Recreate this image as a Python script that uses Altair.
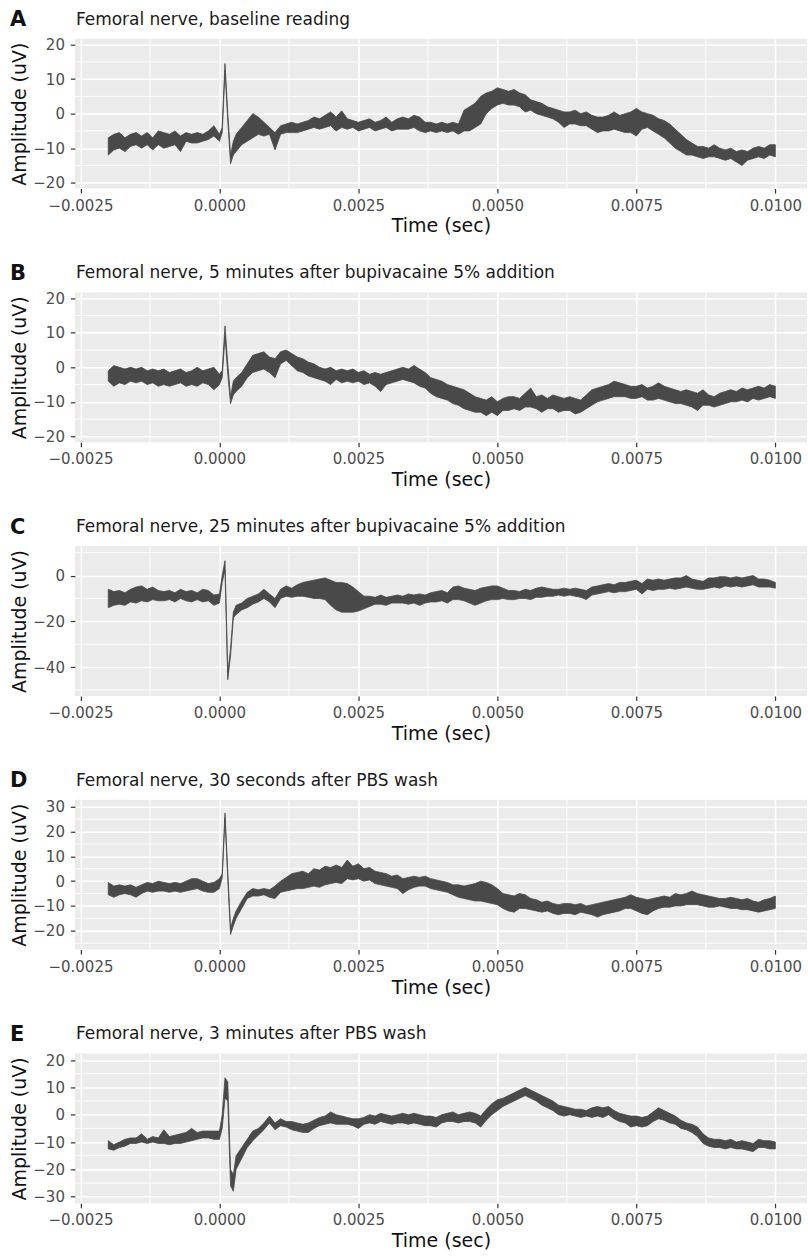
import altair as alt
import pandas as pd

# sample times (s)
TIME = [
    -0.0020, -0.0019, -0.0018, -0.0017, -0.0016, -0.0015, -0.0014, -0.0013, -0.0012, -0.0011,
    -0.0010, -0.0009, -0.0008, -0.0007, -0.0006, -0.0005, -0.0004, -0.0003, -0.0002, -0.0001,
    0.0000, 0.00005, 0.0001, 0.00015, 0.0002, 0.00025,
    0.0003, 0.0004, 0.0005, 0.0006, 0.0007, 0.0008, 0.0009, 0.0010, 0.0011, 0.0012,
    0.0013, 0.0014, 0.0015, 0.0016, 0.0017, 0.0018, 0.0019, 0.0020, 0.0021, 0.0022,
    0.0023, 0.0024, 0.0025, 0.0026, 0.0027, 0.0028, 0.0029, 0.0030, 0.0031, 0.0032,
    0.0033, 0.0034, 0.0035, 0.0036, 0.0037, 0.0038, 0.0039, 0.0040, 0.0041, 0.0042,
    0.0043, 0.0044, 0.0045, 0.0046, 0.0047, 0.0048, 0.0049, 0.0050, 0.0051, 0.0052,
    0.0053, 0.0054, 0.0055, 0.0056, 0.0057, 0.0058, 0.0059, 0.0060, 0.0061, 0.0062,
    0.0063, 0.0064, 0.0065, 0.0066, 0.0067, 0.0068, 0.0069, 0.0070, 0.0071, 0.0072,
    0.0073, 0.0074, 0.0075, 0.0076, 0.0077, 0.0078, 0.0079, 0.0080, 0.0081, 0.0082,
    0.0083, 0.0084, 0.0085, 0.0086, 0.0087, 0.0088, 0.0089, 0.0090, 0.0091, 0.0092,
    0.0093, 0.0094, 0.0095, 0.0096, 0.0097, 0.0098, 0.0099, 0.0100,
]

# Panel A: baseline
A_HI = [
    -7, -6, -5.5, -7, -6, -5.5, -6.5, -5.5, -7, -5,
    -5.5, -6, -5, -6.5, -5.5, -6, -5.5, -6, -5, -3.5,
    -6, -4, 14.5, 0, -12, -8,
    -6, -4, -2, 0, -1, -2.5, -4, -5.5, -3.5, -3,
    -2.5, -3, -2.5, -2, -1, -1.5, -0.5, 0.5, -1, 0.8,
    -1.5, -2, -2.5, -2, -1.5, -2.5, -2, -1, -2.5, -1.5,
    -1, -1.5, -0.5, -1, -2.5, -2.5, -3, -2.5, -3, -2.5,
    -3, 1, 2, 3, 5, 6, 6.5, 7.5, 7, 6.5,
    7, 6, 5.5, 4, 3.5, 3, 2, 1.5, 1, 0.5,
    0.5, 1, 0, 0.5, -0.5, -1, -1, -0.5, 0.5, -0.5,
    0, 0.5, 1.5, 0.5, 0, -0.5, -1.5, -2, -3, -4.5,
    -6, -7.5, -8.5, -9.5, -9.5, -10, -9, -10, -10.5, -10,
    -11, -10.5, -11, -10, -9.5, -10, -9, -9,
]
A_LO = [
    -12, -10.5, -10, -11, -9.5, -9, -10, -9, -10.5, -9,
    -10, -9.5, -9, -11, -8, -8.5, -8.5, -8, -7.5, -6.5,
    -8, -5.5, 12.5, -2, -14.5, -12,
    -11, -9, -8, -7, -6, -6.5, -6, -10.5, -6, -5.5,
    -5.5, -5.5, -5, -4.5, -4, -4.5, -4, -3.5, -5, -4,
    -4.5, -4, -5, -4.5, -4, -5, -4.5, -4, -5, -4.5,
    -4.5, -4.5, -4, -5, -5.5, -5, -5.5, -5, -5.5, -5,
    -6, -5, -5, -4, -3, 0, 1.5, 2.5, 3, 2.5,
    2.5, 2, 0.5, 1, 0, -0.5, -1, -1.5, -2.5, -4,
    -3, -3, -3.5, -3.5, -4.5, -5.5, -5, -5, -4.5, -5,
    -5.5, -5.5, -6.5, -4.5, -4, -5, -6, -7, -8.5, -10,
    -11, -12, -12, -12.5, -13, -12.5, -12.5, -13, -13.5, -13,
    -14, -15, -13.5, -13, -12.5, -13, -12, -12.5,
]

# Panel B: 5 min after bupivacaine
B_HI = [
    -1, 0.5, 0, -0.5, 0, -0.5, 0, -1, -0.5, -1,
    -0.5, -1.5, -1, -0.5, -1.5, -1, 0, -1, -0.5, 0,
    -2, -1, 12, 1, -8.5, -4,
    -3, -1.5, 1, 3.5, 4, 4.5, 3, 2.5, 4.5, 5,
    4, 3, 2.5, 1.5, 1, 0, -0.5, 0, -1, -0.5,
    -1, -0.5, -1.5, -1, -2, -1.5, -2, -1.5, -1, -0.5,
    0, -0.5, 0.5, -0.5, -1.5, -3, -3.5, -4, -5, -5.5,
    -6, -6.5, -7.5, -8.5, -9, -9.5, -8.5, -10, -9, -8.5,
    -8.5, -9, -7.5, -6, -8.5, -8, -9, -8, -8.5, -9,
    -8.5, -9, -9.5, -8, -6.5, -6, -5.5, -5, -4, -4.5,
    -5, -5.5, -5.5, -5, -6, -5.5, -4.5, -5.5, -6, -6.5,
    -7, -6.5, -7, -7.5, -6.5, -8, -8.5, -7.5, -7, -6.5,
    -7, -6, -6.5, -6, -5.5, -6, -5, -5.5,
]
B_LO = [
    -4, -5.5, -4.5, -5, -4, -4.5, -4, -5, -4.5, -5.5,
    -5, -5.5, -5, -4.5, -5.5, -5, -5.5, -4.5, -5, -6.5,
    -5, -3, 9, -2, -10.5, -8,
    -7, -5.5, -3, -1.5, -1, -0.5, -1.5, -3, 1, 2,
    0.5, -1, -1.5, -2.5, -3, -3.5, -4, -5, -3.5, -4.5,
    -4, -4.5, -4, -5, -4.5, -5.5, -7, -5, -4.5, -4,
    -3.5, -4, -4.5, -5.5, -6, -7.5, -8.5, -9, -9.5, -10.5,
    -11, -12, -12.5, -13, -13, -14, -13, -14, -12.5, -12.5,
    -12, -12.5, -11.5, -11.5, -12, -13, -12, -12, -13, -12.5,
    -12.5, -13.5, -13, -12, -11, -10, -9.5, -9, -8.5, -8.5,
    -8.5, -9, -9, -8.5, -9.5, -9.5, -9, -9.5, -10, -10.5,
    -10.5, -11, -11.5, -12.5, -11, -11, -11.5, -11, -10.5, -10,
    -10, -9.5, -10, -9, -9.5, -9, -8.5, -9,
]

# Panel C: 25 min after bupivacaine
C_HI = [
    -6, -7, -6.5, -7.5, -6, -5, -4.5, -6, -5, -6.5,
    -7, -6.5, -7.5, -6, -7, -6.5, -7.5, -6, -6.5, -8.5,
    -8, 0, 6.5, -42.5, -32, -16,
    -13, -12, -10, -9, -8, -6, -8, -10, -6, -4.5,
    -5.5, -4, -3, -2.5, -2, -1.5, -1, -2, -3, -3,
    -3.5, -5, -7, -9, -9, -9.5, -8.5, -9.5, -9, -8.5,
    -9, -8, -8.5, -8, -8.5, -7.5, -7, -6.5, -7.5, -5,
    -4.5, -5.5, -6, -6.5, -5.5, -5, -4.5, -4.5, -5.5, -6.5,
    -6.5, -7, -6, -6.5, -5.5, -5, -5.5, -6, -6, -5.5,
    -6, -5.5, -6, -6.5, -5, -4.5, -4, -3.5, -4, -3,
    -3, -2.5, -2, -3.5, -1.5, -2, -1.5, -2, -1.5, -1,
    -1, 0, -1.5, -2, -2.5, -1, -1, -0.5, -0.5, -1,
    -0.5, -1, -0.5, 0, -1.5, -1.5, -2, -3,
]
C_LO = [
    -14, -13, -12.5, -13, -11.5, -12, -11, -11.5, -10.5, -11,
    -11, -10.5, -11.5, -10, -11, -11.5, -10.5, -11.5, -11, -13,
    -12, -3, 2.5, -45.5, -35, -18.5,
    -17, -15, -14, -12.5, -11.5, -10, -11.5, -14, -10, -9,
    -9.5, -9, -9, -9.5, -10, -10, -10.5, -13, -15, -16,
    -16, -16, -15.5, -14.5, -13.5, -12.5, -12.5, -13, -12, -12,
    -12, -12.5, -12, -13, -12, -11.5, -11.5, -11, -12, -10.5,
    -10.5, -11, -12, -13, -12, -11, -10.5, -10.5, -10, -10.5,
    -10.5, -10, -10, -10.5, -9.5, -9.5, -9, -9, -8.5, -9,
    -8.5, -9, -9.5, -10.5, -8.5, -8, -7.5, -7, -7.5, -7,
    -7, -6.5, -6, -8, -6, -6.5, -6, -6, -5.5, -6,
    -5.5, -5, -5.5, -6, -6, -5.5, -5, -5.5, -4.5, -5,
    -4.5, -5, -4.5, -4, -5, -5, -5, -5.5,
]

# Panel D: 30 s after PBS wash
D_HI = [
    -0.5, -2, -1.5, -2, -1.5, -2.5, -1.5, -0.5, -1, 0,
    -0.5, -1, -0.5, -1, 0, 1, 1, 0, -1, -0.5,
    1, 3, 27.5, 3.5, -19, -15,
    -12, -8, -4.5, -3, -3.5, -3, -3.5, -2, 0, 1.5,
    3, 3.5, 4, 3, 5, 4.5, 6, 5.5, 6.5, 5.5,
    8.5, 6, 7, 5, 5.5, 4, 3.5, 3, 2, 2.5,
    1, 1.5, 2, 1.5, 2, 1, 0.5, 0, -0.5, -1.5,
    -1.5, -2, -1.5, -1, 0, -0.5, -1.5, -3, -5, -5.5,
    -6, -5, -5.5, -7, -7.5, -8.5, -8, -9, -9.5, -9,
    -9, -9.5, -9, -10, -9.5, -9, -8.5, -8, -7.5, -7,
    -6.5, -5.5, -6.5, -7, -7.5, -7, -6.5, -6, -6.5, -5,
    -5.5, -5, -4, -5, -5.5, -6, -6.5, -7, -7, -6.5,
    -7, -7.5, -7, -8, -8.5, -7.5, -7, -6,
]
D_LO = [
    -5.5, -6.5, -5.5, -5, -5.5, -6.5, -5, -4, -4.5, -4,
    -4, -4.5, -4, -4.5, -4, -3.5, -3, -4, -4.5, -4.5,
    -3, 1.5, 25.5, 1, -21.5, -18,
    -15, -11, -7, -6, -6, -5.5, -6.5, -7, -4.5, -4,
    -3.5, -3, -3, -2.5, -2, -2.5, -1.5, -1, -0.5, -1,
    1, 0.5, 1, 0, 0.5, -1, -1.5, -2, -2.5, -3,
    -5, -3.5, -2.5, -2, -2, -3, -3.5, -4, -4.5, -5.5,
    -6.5, -7, -7.5, -8, -8, -8.5, -9, -9.5, -11, -12,
    -12.5, -11, -11, -11.5, -12, -12.5, -12, -13, -13.5, -13,
    -13, -13.5, -12.5, -13, -13.5, -14.5, -13.5, -13, -12.5, -12,
    -11, -11, -12, -13, -13.5, -12, -11, -10.5, -10.5, -10,
    -10, -9.5, -9.5, -9.5, -10, -10.5, -10.5, -10, -10.5, -11,
    -11, -11.5, -11.5, -12, -12.5, -12, -11.5, -11,
]

# Panel E: 3 min after PBS wash
E_HI = [
    -9.5, -11, -10, -9, -8.5, -8.5, -7, -9, -8, -8.5,
    -5.5, -8, -7.5, -7, -6.5, -5, -6.5, -6, -6, -6,
    -6, 0, 13.5, 12, -20, -22,
    -15, -12, -9, -6, -5, -3, -0.5, -3, -1.5, -2.5,
    -2.5, -3, -3.5, -3, -2, -1, -0.5, 1, 0, -0.5,
    -1, -1.5, -1.5, -1, 0, -0.5, 0.5, 0, -0.5, 0,
    0.5, 0, 0.5, 0, -0.5, -0.5, -1, 0, 0.5, 1,
    0, 0.5, 1, 0.5, -0.5, 2, 4, 5.5, 6, 7,
    8, 9, 10, 9, 8, 7, 6, 5, 3.5, 3,
    2.5, 2, 2, 1.5, 2.5, 3, 2.5, 3, 1.5, 0.5,
    0, -0.5, -0.5, -1, -0.5, 1, 2.5, 1.5, 0.5, -0.5,
    -2, -3, -3.5, -4.5, -7, -8.5, -9, -9, -9.5, -9,
    -10, -9.5, -10, -10.5, -9, -9.5, -9.5, -10,
]
E_LO = [
    -12.5, -13, -12, -11.5, -10.5, -10.5, -10, -10.5, -10, -10.5,
    -10.5, -11, -10.5, -10.5, -10, -9.5, -9, -8.5, -8.5, -9,
    -9, -5, 6, 5, -26, -28,
    -20, -16, -12, -9.5, -7.5, -5.5, -3, -5.5, -4, -4.5,
    -5.5, -6, -6.5, -6.5, -5, -4, -3.5, -3, -3.5, -3.5,
    -3.5, -4, -5, -3.5, -3, -3.5, -2.5, -3, -3.5, -3,
    -3, -3.5, -3, -3.5, -4, -4, -4.5, -3, -2.5, -2.5,
    -3, -2.5, -2.5, -3, -4.5, -2, 0, 1.5, 3, 4,
    5, 6, 7, 6, 5, 3.5, 2.5, 1.5, 0, -0.5,
    0, -0.5, -1, -0.5, -1, -0.5, -1, 0, -1.5, -2.5,
    -3, -4.5, -4, -4.5, -4, -2.5, -1.5, -2, -3, -3.5,
    -5, -5.5, -6.5, -8, -10.5, -11.5, -12, -12, -12.5, -12,
    -12.5, -12.5, -13, -13.5, -12, -12, -12.5, -12.5,
]

LETTERS = ["A", "B", "C", "D", "E"]
TITLES = [
    "Femoral nerve, baseline reading",
    "Femoral nerve, 5 minutes after bupivacaine 5% addition",
    "Femoral nerve, 25 minutes after bupivacaine 5% addition",
    "Femoral nerve, 30 seconds after PBS wash",
    "Femoral nerve, 3 minutes after PBS wash",
]
HIS = [A_HI, B_HI, C_HI, D_HI, E_HI]
LOS = [A_LO, B_LO, C_LO, D_LO, E_LO]
Y_DOMAINS = [[-21.7, 21.7], [-21.7, 21.7], [-52.6, 12.9], [-27.6, 32.8], [-32.4, 22.4]]
Y_TICKS = [
    [-20, -10, 0, 10, 20],
    [-20, -10, 0, 10, 20],
    [-40, -20, 0],
    [-20, -10, 0, 10, 20, 30],
    [-30, -20, -10, 0, 10, 20],
]
Y_MINOR = [
    [-15, -5, 5, 15],
    [-15, -5, 5, 15],
    [-50, -30, -10, 10],
    [-25, -15, -5, 5, 15, 25],
    [-25, -15, -5, 5, 15],
]
X_TICKS = [-0.0025, 0.0, 0.0025, 0.005, 0.0075, 0.01]
X_MINOR = [-0.00125, 0.00125, 0.00375, 0.00625, 0.00875]
X_DOMAIN = [-0.0026, 0.01057]

FONT = "DejaVu Sans"
RIBBON = "#4a4949"
W, H = 733, 150


def panel(i):
    df = pd.DataFrame({"t": TIME, "hi": HIS[i], "lo": LOS[i]})
    xs = alt.Scale(domain=X_DOMAIN, nice=False, zero=False)
    ys = alt.Scale(domain=Y_DOMAINS[i], nice=False, zero=False)
    x_enc = alt.X("t:Q", scale=xs, axis=alt.Axis(
        values=X_TICKS, format=".4f", title="Time (sec)",
        labelPadding=5, titlePadding=4))
    y_enc = alt.Y("hi:Q", scale=ys, axis=alt.Axis(
        values=Y_TICKS[i], title="Amplitude (uV)",
        minExtent=40, maxExtent=40, labelPadding=6, titlePadding=5))
    area = alt.Chart(df).mark_area(
        color=RIBBON, stroke=RIBBON, strokeWidth=0.8, interpolate="linear", clip=True
    ).encode(x=x_enc, y=y_enc, y2="lo:Q")
    vmin = alt.Chart(pd.DataFrame({"t": X_MINOR})).mark_rule(
        color="white", strokeWidth=0.9).encode(x=x_enc)
    hmin = alt.Chart(pd.DataFrame({"hi": Y_MINOR[i]})).mark_rule(
        color="white", strokeWidth=0.9).encode(y=y_enc)
    label = alt.Chart(pd.DataFrame({"s": [TITLES[i]]})).mark_text(
        align="left", baseline="alphabetic", font=FONT, fontSize=17,
        color="#1a1a1a"
    ).encode(text="s:N", x=alt.value(1), y=alt.value(-14))
    letter = alt.Chart(pd.DataFrame({"s": [LETTERS[i]]})).mark_text(
        align="left", baseline="alphabetic", font=FONT, fontSize=21,
        fontWeight="bold", color="#111111"
    ).encode(text="s:N", x=alt.value(-65), y=alt.value(-12.5))
    return alt.layer(vmin, hmin, area, label, letter).properties(width=W, height=H)


chart = alt.vconcat(*[panel(i) for i in range(5)], spacing=26).properties(
    padding={"left": 10, "top": 8, "right": 0, "bottom": 0},
    background="white",
).configure_view(
    fill="#EBEBEB", stroke=None
).configure_axis(
    grid=True, gridColor="white", gridWidth=1.6, domain=False,
    tickColor="#333333", tickSize=4.5, tickWidth=1.2,
    labelColor="#4D4D4D", labelFont=FONT, labelFontSize=15,
    titleFont=FONT, titleFontSize=19, titleFontWeight="normal", titleColor="#111111",
)

chart.save("out.html", embed_options={"renderer": "svg", "actions": False})
